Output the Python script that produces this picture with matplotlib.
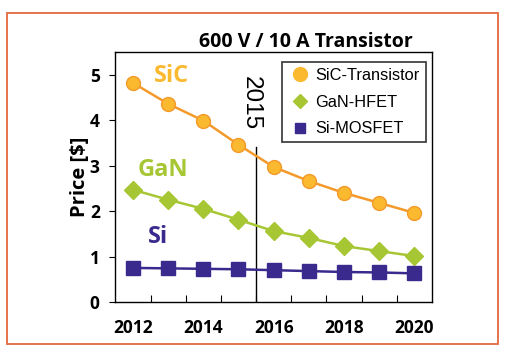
import matplotlib
matplotlib.use("Agg")
import matplotlib.pyplot as plt
from matplotlib.patches import Rectangle
from matplotlib.lines import Line2D

years = [2012, 2013, 2014, 2015, 2016, 2017, 2018, 2019, 2020]
sic = [4.82, 4.36, 3.99, 3.46, 2.97, 2.66, 2.40, 2.18, 1.96]
gan = [2.47, 2.25, 2.05, 1.81, 1.56, 1.41, 1.23, 1.12, 1.01]
si = [0.75, 0.74, 0.73, 0.72, 0.70, 0.68, 0.66, 0.65, 0.63]
xtick_labels = [2012, 2014, 2016, 2018, 2020]
ytick_labels = [0, 1, 2, 3, 4, 5]
legend_names = ["SiC-Transistor", "GaN-HFET", "Si-MOSFET"]
marker_year = 2015.5

SIC_LINE = "#F39A2B"
SIC_FACE = "#FBB930"
GAN_C = "#A6C634"
SI_C = "#3B2A8D"
FRAME_C = "#E2693E"

bold_font = "Open Sans"
plain_font = "Liberation Sans"

W, H = 508, 354
fig = plt.figure(figsize=(W / 100, H / 100), dpi=100)
fig.patch.set_facecolor("white")

# outer frame
fig.patches.append(Rectangle((7 / W, 1 - 344 / H), (498 - 7) / W, (344 - 13) / H,
                             transform=fig.transFigure, fill=False,
                             edgecolor=FRAME_C, linewidth=1.3))

ax = fig.add_axes([115 / W, 1 - 302 / H, (432 - 115) / W, (302 - 52) / H])
ax.set_xlim(2011.49, 2020.5)
ax.set_ylim(0, 5.5)

ax.plot(years, sic, color=SIC_LINE, lw=1.8, marker="o", ms=10,
        mfc=SIC_FACE, mec=SIC_LINE, mew=1.0, zorder=3)
ax.plot(years, gan, color=GAN_C, lw=1.8, marker="D", ms=9,
        mfc=GAN_C, mec=GAN_C, zorder=3)
ax.plot(years, si, color=SI_C, lw=1.8, marker="s", ms=9.5,
        mfc=SI_C, mec=SI_C, zorder=3)

ax.plot([marker_year, marker_year], [0, 3.4], color="black", lw=1.0, zorder=2)
ax.text(2015.35, 4.97, "2015", rotation=-90, ha="center", va="top",
        fontsize=17.5, family=plain_font, color="black")

ax.set_xticks(xtick_labels)
ax.set_xticklabels([str(v) for v in xtick_labels], fontsize=12.5,
                   fontweight="bold", family=bold_font)
ax.set_xticks([y + 0.5 for y in years[:-1]], minor=True)
ax.tick_params(axis="x", which="major", length=0, pad=12)
ax.tick_params(axis="x", which="minor", direction="in", length=5, width=0.8)
ax.set_yticks(ytick_labels)
ax.set_yticklabels([str(v) for v in ytick_labels], fontsize=12.5,
                   fontweight="bold", family=bold_font)
ax.tick_params(axis="y", direction="out", length=4, width=0.8, pad=7)

for s in ax.spines.values():
    s.set_linewidth(1.0)
    s.set_color("black")

ax.set_ylabel("Price [$]", fontsize=14.5, fontweight="bold", family=bold_font,
              labelpad=0)

fig.text(306 / W, 1 - 42 / H, "600 V / 10 A Transistor", ha="center", va="center",
         fontsize=14, fontweight="bold", family=bold_font)

ax.text(2013.1, 4.98, "SiC", color=SIC_FACE, fontsize=17, fontweight="bold",
        family=bold_font, ha="center", va="center")
ax.text(2012.85, 2.9, "GaN", color=GAN_C, fontsize=17, fontweight="bold",
        family=bold_font, ha="center", va="center")
ax.text(2012.72, 1.42, "Si", color=SI_C, fontsize=17, fontweight="bold",
        family=bold_font, ha="center", va="center")

handles = [
    Line2D([], [], ls="none", marker="o", ms=10, mfc=SIC_FACE, mec=SIC_FACE),
    Line2D([], [], ls="none", marker="D", ms=7, mfc=GAN_C, mec=GAN_C),
    Line2D([], [], ls="none", marker="s", ms=7, mfc=SI_C, mec=SI_C),
]
leg = ax.legend(handles, legend_names, loc="upper left",
                bbox_to_anchor=((282 - 115) / (432 - 115), 1 - (62 - 52) / (302 - 52)),
                prop={"family": plain_font, "size": 11.8}, frameon=True,
                fancybox=False, borderpad=0.35, handletextpad=0.2,
                labelspacing=0.72, handlelength=1.5, borderaxespad=0)
leg.get_frame().set_edgecolor("black")
leg.get_frame().set_linewidth(1.2)

fig.savefig("out.png", dpi=100, facecolor="white")
